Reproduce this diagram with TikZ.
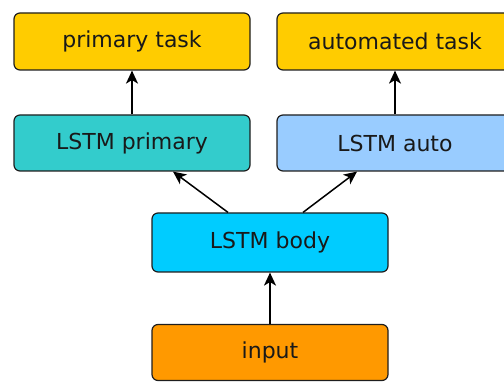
\documentclass[tikz,border=0pt]{standalone}
\usepackage{fontspec}
\setmainfont{DejaVu Sans}
\usetikzlibrary{arrows.meta}
\definecolor{taskyellow}{RGB}{255,204,0}
\definecolor{primteal}{RGB}{51,204,204}
\definecolor{autoblue}{RGB}{153,204,255}
\definecolor{bodycyan}{RGB}{0,204,255}
\definecolor{inorange}{RGB}{255,153,0}
\definecolor{edgegray}{RGB}{30,30,30}
\begin{document}
\begin{tikzpicture}[x=1pt,y=-1pt,
    block/.style={draw=edgegray, line width=1.2pt, rounded corners=6pt, minimum width=236pt,
        minimum height=57pt, inner sep=0pt, font=\fontsize{22}{26}\selectfont, text=black!90},
    arr/.style={line width=1.5pt, -{Stealth[length=13pt,width=12pt,inset=3.5pt]}}]
    \clip (0,0) rectangle (504,382);
    \node[block, fill=taskyellow] (ptask) at (132,41.5) {primary task};
    \node[block, fill=taskyellow] (atask) at (395,41.5) {automated task};
    \node[block, fill=primteal, minimum height=56pt] (lprim) at (132,143) {LSTM primary};
    \node[block, fill=autoblue, minimum height=56pt] (lauto) at (395,143) {LSTM auto};
    \node[block, fill=bodycyan, minimum height=59pt] (lbody) at (270,242.5) {LSTM body};
    \node[block, fill=inorange, minimum height=56pt] (input) at (270,352.5) {input};
    \draw[arr] (lprim) -- (ptask);
    \draw[arr] (lauto) -- (atask);
    \draw[arr] ([xshift=-42pt]lbody.north) -- ([xshift=41pt]lprim.south);
    \draw[arr] ([xshift=33pt]lbody.north) -- ([xshift=-38pt]lauto.south);
    \draw[arr] (input) -- (lbody);
\end{tikzpicture}
\end{document}
